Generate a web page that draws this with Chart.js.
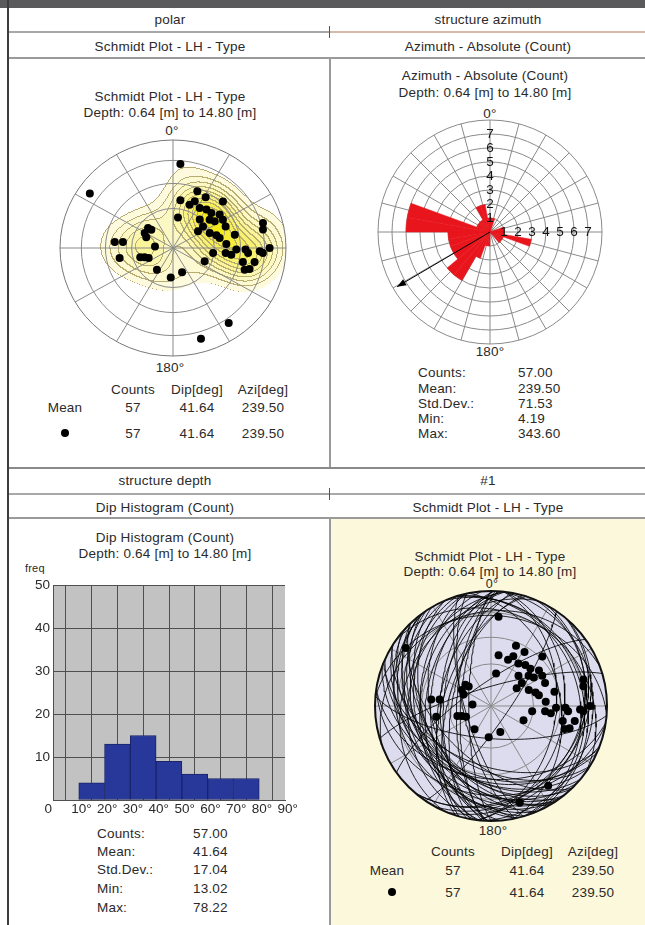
<!DOCTYPE html>
<html>
<head>
<meta charset="utf-8">
<script src="https://cdn.jsdelivr.net/npm/chart.js@4.4.1/dist/chart.umd.min.js"></script>
<style>
  body { margin:0; width:645px; height:925px; position:relative; overflow:hidden; background:#fff;
         font-family:"Liberation Sans", Arial, sans-serif; color:#2a2a2a; }
  .ln  { position:absolute; background:#9a9a9a; }
  .t   { position:absolute; font-size:13.5px; letter-spacing:0.2px; white-space:nowrap; transform:translate(-50%,-50%); }
  .tl  { position:absolute; font-size:13.5px; letter-spacing:0.2px; white-space:nowrap; transform:translate(0,-50%); }
  .dot { position:absolute; width:8px; height:8px; border-radius:50%; background:#000; transform:translate(-50%,-50%); }
  canvas { position:absolute; }
</style>
</head>
<body>

<!-- ── frame ───────────────────────────────────────────────────────────── -->
<div class="ln" style="left:0;top:0;width:645px;height:8px;background:#5a5a5c"></div>
<div class="ln" style="left:7px;top:0;width:2px;height:925px;background:#3c3c3c"></div>
<div class="ln" style="left:9px;top:31px;width:321px;height:2px;background:#a8a8a8"></div>
<div class="ln" style="left:330px;top:31px;width:315px;height:2px;background:#d9b9aa"></div>
<div class="ln" style="left:329px;top:26px;width:1px;height:12px;background:#555"></div>
<div class="ln" style="left:9px;top:57px;width:636px;height:2px"></div>
<div class="ln" style="left:329px;top:57px;width:2px;height:411px"></div>
<div class="ln" style="left:9px;top:467px;width:636px;height:2px;background:#8a8a8a"></div>
<div class="ln" style="left:9px;top:493px;width:636px;height:2px;background:#a8a8a8"></div>
<div class="ln" style="left:329px;top:488px;width:1px;height:12px;background:#555"></div>
<div class="ln" style="left:331px;top:519px;width:314px;height:406px;background:#fbf8dc"></div>
<div class="ln" style="left:9px;top:517px;width:636px;height:2px"></div>
<div class="ln" style="left:329px;top:517px;width:2px;height:408px"></div>

<!-- ── headers ─────────────────────────────────────────────────────────── -->
<div class="t" style="left:170px;top:19px">polar</div>
<div class="t" style="left:488px;top:19px">structure azimuth</div>
<div class="t" style="left:170px;top:46px">Schmidt Plot - LH - Type</div>
<div class="t" style="left:488px;top:46px">Azimuth - Absolute (Count)</div>
<div class="t" style="left:165px;top:480px">structure depth</div>
<div class="t" style="left:488px;top:480px">#1</div>
<div class="t" style="left:165px;top:507px">Dip Histogram (Count)</div>
<div class="t" style="left:488px;top:507px">Schmidt Plot - LH - Type</div>

<!-- ── panel 1: polar (Schmidt, contoured) ─────────────────────────────── -->
<div class="t" style="left:170px;top:96px">Schmidt Plot - LH - Type</div>
<div class="t" style="left:170px;top:112px">Depth: 0.64 [m] to 14.80 [m]</div>
<div class="t" style="left:172px;top:130px">0°</div>
<div class="t" style="left:170px;top:367px">180°</div>
<div class="t" style="left:133px;top:389px">Counts</div>
<div class="t" style="left:197px;top:389px">Dip[deg]</div>
<div class="t" style="left:263px;top:389px">Azi[deg]</div>
<div class="t" style="left:65px;top:407px">Mean</div>
<div class="t" style="left:133px;top:407px">57</div>
<div class="t" style="left:197px;top:407px">41.64</div>
<div class="t" style="left:263px;top:407px">239.50</div>
<div class="dot" style="left:65px;top:433px"></div>
<div class="t" style="left:133px;top:433px">57</div>
<div class="t" style="left:197px;top:433px">41.64</div>
<div class="t" style="left:263px;top:433px">239.50</div>
<canvas id="polarNet" width="238" height="228" style="left:54px;top:134px"></canvas>

<!-- ── panel 2: azimuth rose ───────────────────────────────────────────── -->
<div class="t" style="left:485px;top:75px">Azimuth - Absolute (Count)</div>
<div class="t" style="left:485px;top:92px">Depth: 0.64 [m] to 14.80 [m]</div>
<div class="t" style="left:490px;top:113px">0°</div>
<div class="t" style="left:490px;top:351px">180°</div>
<div class="tl" style="left:418px;top:372px">Counts:</div>
<div class="tl" style="left:418px;top:388px">Mean:</div>
<div class="tl" style="left:418px;top:403px">Std.Dev.:</div>
<div class="tl" style="left:418px;top:418px">Min:</div>
<div class="tl" style="left:418px;top:433px">Max:</div>
<div class="tl" style="left:518px;top:372px">57.00</div>
<div class="tl" style="left:518px;top:388px">239.50</div>
<div class="tl" style="left:518px;top:403px">71.53</div>
<div class="tl" style="left:518px;top:418px">4.19</div>
<div class="tl" style="left:518px;top:433px">343.60</div>
<canvas id="azRose" width="240" height="240" style="left:370px;top:112px"></canvas>

<!-- ── panel 3: dip histogram ──────────────────────────────────────────── -->
<div class="t" style="left:165px;top:537px">Dip Histogram (Count)</div>
<div class="t" style="left:165px;top:553px">Depth: 0.64 [m] to 14.80 [m]</div>
<div class="tl" style="left:25px;top:568px;font-size:11px">freq</div>
<div class="tl" style="left:97px;top:833px">Counts:</div>
<div class="tl" style="left:97px;top:851px">Mean:</div>
<div class="tl" style="left:97px;top:869px">Std.Dev.:</div>
<div class="tl" style="left:97px;top:888px">Min:</div>
<div class="tl" style="left:97px;top:907px">Max:</div>
<div class="tl" style="left:193px;top:833px">57.00</div>
<div class="tl" style="left:193px;top:851px">41.64</div>
<div class="tl" style="left:193px;top:869px">17.04</div>
<div class="tl" style="left:193px;top:888px">13.02</div>
<div class="tl" style="left:193px;top:907px">78.22</div>
<canvas id="dipHist" width="285" height="265" style="left:20px;top:560px"></canvas>

<!-- ── panel 4: Schmidt with great circles ─────────────────────────────── -->
<div class="t" style="left:490px;top:556px">Schmidt Plot - LH - Type</div>
<div class="t" style="left:490px;top:571px">Depth: 0.64 [m] to 14.80 [m]</div>
<div class="t" style="left:492px;top:584px;font-size:12.5px">0°</div>
<div class="t" style="left:493px;top:830px">180°</div>
<div class="t" style="left:453px;top:851px">Counts</div>
<div class="t" style="left:527px;top:851px">Dip[deg]</div>
<div class="t" style="left:593px;top:851px">Azi[deg]</div>
<div class="t" style="left:387px;top:870px">Mean</div>
<div class="t" style="left:453px;top:870px">57</div>
<div class="t" style="left:527px;top:870px">41.64</div>
<div class="t" style="left:593px;top:870px">239.50</div>
<div class="dot" style="left:392px;top:892px"></div>
<div class="t" style="left:453px;top:892px">57</div>
<div class="t" style="left:527px;top:892px">41.64</div>
<div class="t" style="left:593px;top:892px">239.50</div>
<canvas id="circleNet" width="244" height="242" style="left:369px;top:585px"></canvas>

<script>
// ── Structure data (dip, dip azimuth), 57 picks ─────────────────────────────
const dips = [
  66.9, 78.2, 47.3, 45.9, 36.8, 35.2, 36.2, 38.2, 51.8, 42.8,
  23.4, 29.0, 34.3, 36.6, 42.0, 22.0, 29.0, 33.0, 46.7, 71.8,
  70.3, 23.5, 20.9, 23.4, 20.9, 13.0, 43.0, 36.8, 39.8, 24.7,
  21.7, 20.1, 22.3, 19.5, 25.0, 29.3, 39.1, 38.7, 43.1, 54.0,
  56.2, 65.8, 74.4, 53.1, 62.5, 56.1, 59.8, 74.0, 76.6, 39.1,
  27.2, 34.8, 46.7, 68.6, 19.1, 38.8, 42.6,
];
const dipAzimuths = [
  184.8, 124.4, 202.3, 211.6, 188.4, 200.1, 212.5, 219.7, 225.7, 233.2,
  188.8, 222.0, 231.0, 236.2, 246.8, 235.1, 246.8, 253.0, 257.3, 253.8,
  257.9, 129.9, 131.5, 119.0, 112.8,  94.8,  96.2,  97.2,  78.9,  73.4,
   71.1,  35.2,   4.2, 340.4, 293.7, 277.4, 265.5, 275.6, 276.9, 271.3,
  274.0, 272.3, 270.0, 281.9, 280.2, 287.6, 286.0, 324.6, 343.6, 204.0,
  233.0, 257.3, 271.5, 273.3,  66.6, 226.3, 239.3,
];

// ── Rose diagram: counts per 10° azimuth bin (0-10, 10-20, ... 350-360) ─────
const roseCounts = [
  1, 1, 0, 0, 0, 0, 0, 1, 1, 1,
  3, 1, 1, 1, 0, 0, 0, 0, 1, 1,
  2, 4, 4, 3, 3, 3, 3, 6, 6, 1,
  1, 1, 1, 2, 2, 1,
];
const roseTicks = [1, 2, 3, 4, 5, 6, 7];
const roseSpokeStep = 15;
const meanAzimuth = 239.5;

// ── Dip histogram ───────────────────────────────────────────────────────────
const dipBinStarts = [10, 20, 30, 40, 50, 60, 70];
const dipBinCounts = [4, 13, 15, 9, 6, 5, 5];
const histXTicks   = [10, 20, 30, 40, 50, 60, 70, 80, 90];
const histYTicks   = [0, 10, 20, 30, 40, 50];

// ── Net grid (rings by dip, spokes every 30°) ───────────────────────────────
const netRingDips  = [30, 50, 70];
const netSpokeStep = 30;

const COLORS = {
  grid:   '#8a8a8a',
  red:    '#e8161c',
  bar:    '#27389a',
  barEdge:'#19246a',
  histBg: '#c2c2c2',
  histGrid:'#4f4f4f',
  disk:   '#dcdcee',
  olive:  [184, 172, 110],
};
const FONT = '13.5px "Liberation Sans", Arial, sans-serif';
const rad = d => d * Math.PI / 180;

// Lower-hemisphere equal-area position of the pole to a plane
function poleXY(dip, az) {
  const r = Math.SQRT2 * Math.sin(rad(dip) / 2);
  const trend = rad(az + 180);
  return { x: r * Math.sin(trend), y: r * Math.cos(trend) };
}
const poles = dips.map((d, i) => poleXY(d, dipAzimuths[i]));

// Great circle trace of a plane (lower hemisphere, equal-area)
function greatCircle(dip, az) {
  const d = rad(dip), a = rad(az);
  const s = [Math.sin(a), -Math.cos(a), 0];
  const v = [Math.cos(d) * Math.cos(a), Math.cos(d) * Math.sin(a), Math.sin(d)];
  const pts = [];
  for (let k = 0; k <= 72; k++) {
    const t = Math.PI * k / 72;
    const N = Math.cos(t) * s[0] + Math.sin(t) * v[0];
    const E = Math.cos(t) * s[1] + Math.sin(t) * v[1];
    const D = Math.cos(t) * s[2] + Math.sin(t) * v[2];
    const h = Math.hypot(N, E);
    const r = Math.sqrt(Math.max(0, 1 - D));
    pts.push(h < 1e-9 ? { x: 0, y: 0 } : { x: r * E / h, y: r * N / h });
  }
  return pts;
}

// ── Shared net grid plugin (drawn under the datasets) ───────────────────────
function netGridPlugin(fill) {
  return {
    id: 'netGrid',
    beforeDatasetsDraw(chart) {
      const { ctx, scales: { x, y } } = chart;
      const cx = x.getPixelForValue(0), cy = y.getPixelForValue(0);
      const rx = x.getPixelForValue(1) - cx, ry = cy - y.getPixelForValue(1);
      ctx.save();
      if (fill) {
        ctx.fillStyle = fill;
        ctx.beginPath(); ctx.ellipse(cx, cy, rx, ry, 0, 0, Math.PI * 2); ctx.fill();
      }
      ctx.strokeStyle = COLORS.grid;
      ctx.lineWidth = 1;
      netRingDips.forEach(dip => {
        const r = Math.SQRT2 * Math.sin(rad(dip) / 2);
        ctx.beginPath(); ctx.ellipse(cx, cy, rx * r, ry * r, 0, 0, Math.PI * 2); ctx.stroke();
      });
      for (let a = 0; a < 360; a += netSpokeStep) {
        ctx.beginPath();
        ctx.moveTo(cx, cy);
        ctx.lineTo(x.getPixelForValue(Math.sin(rad(a))), y.getPixelForValue(Math.cos(rad(a))));
        ctx.stroke();
      }
      ctx.restore();
    },
  };
}

function outerRingPlugin(color, width) {
  return {
    id: 'outerRing',
    afterDatasetsDraw(chart) {
      const { ctx, scales: { x, y } } = chart;
      const cx = x.getPixelForValue(0), cy = y.getPixelForValue(0);
      ctx.save();
      ctx.strokeStyle = color; ctx.lineWidth = width;
      ctx.beginPath();
      ctx.ellipse(cx, cy, x.getPixelForValue(1) - cx, cy - y.getPixelForValue(1), 0, 0, Math.PI * 2);
      ctx.stroke();
      ctx.restore();
    },
  };
}

// ── Density contours for the polar plot ─────────────────────────────────────
const densityLevels = [0.13, 0.22, 0.31, 0.4, 0.49, 0.58, 0.67, 0.76, 0.85, 0.93];
const densitySigma  = 0.16;

const densityPlugin = {
  id: 'density',
  beforeDatasetsDraw(chart) {
    const { ctx, chartArea: a, scales: { x, y } } = chart;
    const w = Math.round(a.right - a.left), h = Math.round(a.bottom - a.top);
    const vals = new Float32Array(w * h);
    const k2 = 2 * densitySigma * densitySigma;
    let max = 0;
    for (let j = 0; j < h; j++) {
      const vy = y.getValueForPixel(a.top + j + 0.5);
      for (let i = 0; i < w; i++) {
        const vx = x.getValueForPixel(a.left + i + 0.5);
        if (vx * vx + vy * vy > 1) { vals[j * w + i] = -1; continue; }
        let s = 0;
        for (const p of poles) {
          const dx = vx - p.x, dy = vy - p.y;
          s += Math.exp(-(dx * dx + dy * dy) / k2);
        }
        vals[j * w + i] = s;
        if (s > max) max = s;
      }
    }
    const lev = new Int8Array(w * h);
    for (let n = 0; n < w * h; n++) {
      if (vals[n] < 0) { lev[n] = -1; continue; }
      const f = vals[n] / max;
      let L = 0;
      densityLevels.forEach((t, k) => { if (f >= t) L = k + 1; });
      lev[n] = L;
    }
    const off = document.createElement('canvas');
    off.width = w; off.height = h;
    const octx = off.getContext('2d');
    const img = octx.createImageData(w, h);
    const lo = [253, 250, 222], hi = [243, 234, 30];
    for (let j = 0; j < h; j++) {
      for (let i = 0; i < w; i++) {
        const n = j * w + i, L = lev[n];
        if (L <= 0) continue;
        const tt = Math.pow((L - 1) / (densityLevels.length - 1), 1.3);
        let c = lo.map((v, q) => v + (hi[q] - v) * tt);
        const edge = (i > 0 && lev[n - 1] !== L && lev[n - 1] >= 0) ||
                     (j > 0 && lev[n - w] !== L && lev[n - w] >= 0);
        if (edge) c = COLORS.olive;
        img.data[n * 4] = c[0]; img.data[n * 4 + 1] = c[1]; img.data[n * 4 + 2] = c[2];
        img.data[n * 4 + 3] = 255;
      }
    }
    octx.putImageData(img, 0, 0);
    ctx.drawImage(off, a.left, a.top);
  },
};

const netScales = {
  x: { type: 'linear', min: -1, max: 1, display: false },
  y: { type: 'linear', min: -1, max: 1, display: false },
};
const quiet = { legend: { display: false }, tooltip: { enabled: false } };

// ── 1. Polar — contoured Schmidt net ───────────────────────────────────────
function renderPolarNet() {
  new Chart(document.getElementById('polarNet'), {
    type: 'scatter',
    data: { datasets: [{
      data: poles,
      pointRadius: 4,
      pointBackgroundColor: '#000',
      pointBorderWidth: 0,
      clip: false,
    }] },
    options: {
      responsive: false, animation: false, events: [],
      layout: { padding: 6 },
      plugins: quiet,
      scales: netScales,
    },
    plugins: [densityPlugin, netGridPlugin(null), outerRingPlugin('#777', 1)],
  });
}

// ── 2. Azimuth rose ─────────────────────────────────────────────────────────
const roseExtras = {
  id: 'roseExtras',
  beforeDatasetsDraw(chart) {
    // spokes of the rose net
    const r = chart.scales.r, ctx = chart.ctx;
    const R = r.getDistanceFromCenterForValue(r.max);
    ctx.save();
    ctx.strokeStyle = COLORS.grid; ctx.lineWidth = 1;
    for (let a = 0; a < 360; a += roseSpokeStep) {
      ctx.beginPath();
      ctx.moveTo(r.xCenter, r.yCenter);
      ctx.lineTo(r.xCenter + R * Math.sin(rad(a)), r.yCenter - R * Math.cos(rad(a)));
      ctx.stroke();
    }
    ctx.restore();
  },
  afterDraw(chart) {
    const r = chart.scales.r, ctx = chart.ctx;
    ctx.save();
    ctx.font = FONT;
    ctx.fillStyle = '#111';
    ctx.textAlign = 'center';
    ctx.textBaseline = 'middle';
    roseTicks.forEach(v => {
      const d = r.getDistanceFromCenterForValue(v);
      ctx.fillText(String(v), r.xCenter, r.yCenter - d);
      ctx.fillText(String(v), r.xCenter + d, r.yCenter);
    });
    // mean direction arrow
    const len = r.getDistanceFromCenterForValue(7.7);
    const th = rad(meanAzimuth);
    const tx = r.xCenter + len * Math.sin(th), ty = r.yCenter - len * Math.cos(th);
    ctx.strokeStyle = '#000'; ctx.fillStyle = '#000'; ctx.lineWidth = 1;
    ctx.beginPath(); ctx.moveTo(r.xCenter, r.yCenter); ctx.lineTo(tx, ty); ctx.stroke();
    const ux = Math.sin(th), uy = -Math.cos(th);
    ctx.beginPath();
    ctx.moveTo(tx, ty);
    ctx.lineTo(tx - 9 * ux - 3.5 * uy, ty - 9 * uy + 3.5 * ux);
    ctx.lineTo(tx - 9 * ux + 3.5 * uy, ty - 9 * uy - 3.5 * ux);
    ctx.closePath(); ctx.fill();
    ctx.restore();
  },
};

function renderAzimuthRose() {
  new Chart(document.getElementById('azRose'), {
    type: 'polarArea',
    data: {
      labels: roseCounts.map((_, i) => `${i * 10}-${i * 10 + 10}`),
      datasets: [{
        data: roseCounts,
        backgroundColor: COLORS.red,
        borderColor: COLORS.red,
        borderWidth: 0.5,
      }],
    },
    options: {
      responsive: false, animation: false, events: [],
      layout: { padding: 8 },
      plugins: quiet,
      scales: {
        r: {
          min: 0, max: 8, startAngle: 0,
          ticks: { display: false, stepSize: 1 },
          grid: { circular: true, color: COLORS.grid, lineWidth: 1 },
          angleLines: { display: false },
          pointLabels: { display: false },
        },
      },
    },
    plugins: [roseExtras],
  });
}

// ── 3. Dip histogram ────────────────────────────────────────────────────────
const histExtras = {
  id: 'histExtras',
  beforeDraw(chart) {
    const { ctx, chartArea: a } = chart;
    ctx.save();
    ctx.fillStyle = COLORS.histBg;
    ctx.fillRect(a.left, a.top, a.right - a.left, a.bottom - a.top);
    ctx.restore();
  },
  afterDraw(chart) {
    const { ctx, chartArea: a, scales: { x, y } } = chart;
    ctx.save();
    ctx.font = FONT;
    ctx.fillStyle = '#2a2a2a';
    ctx.textBaseline = 'middle';
    histYTicks.forEach(v => {
      ctx.textAlign = 'right';
      if (v === 0) ctx.fillText('0', a.left - 1, a.bottom + 9);
      else ctx.fillText(String(v), a.left - 3, y.getPixelForValue(v));
    });
    ctx.textAlign = 'left';
    histXTicks.forEach(v => {
      const w = ctx.measureText(String(v)).width;
      ctx.fillText(v + '°', x.getPixelForValue(v) - w / 2, a.bottom + 9);
    });
    ctx.restore();
  },
};

function renderDipHistogram() {
  const gridOpts = { color: COLORS.histGrid, lineWidth: 1, drawTicks: false };
  new Chart(document.getElementById('dipHist'), {
    type: 'bar',
    data: { datasets: [{
      data: dipBinStarts.map((b, i) => ({ x: b + 5, y: dipBinCounts[i] })),
      backgroundColor: COLORS.bar,
      borderColor: COLORS.barEdge,
      borderWidth: 1,
      borderSkipped: false,
      barPercentage: 1,
      categoryPercentage: 1,
    }] },
    options: {
      responsive: false, animation: false, events: [],
      layout: { padding: { left: 33, right: 20, top: 25, bottom: 25 } },
      plugins: quiet,
      scales: {
        x: { type: 'linear', min: 0, max: 90, offset: false,
             ticks: { display: false, stepSize: 10 }, grid: gridOpts,
             border: { color: COLORS.histGrid } },
        y: { type: 'linear', min: 0, max: 50,
             ticks: { display: false, stepSize: 10 }, grid: gridOpts,
             border: { color: COLORS.histGrid } },
      },
    },
    plugins: [histExtras],
  });
}

// ── 4. Schmidt net with great circles ───────────────────────────────────────
function renderCircleNet() {
  const traces = dips.map((d, i) => ({
    data: greatCircle(d, dipAzimuths[i]),
    showLine: true,
    pointRadius: 0,
    borderColor: 'rgba(0,0,0,0.85)',
    borderWidth: 1,
    fill: false,
  }));
  new Chart(document.getElementById('circleNet'), {
    type: 'scatter',
    data: { datasets: [{
      data: poles,
      pointRadius: 4,
      pointBackgroundColor: '#000',
      pointBorderWidth: 0,
      clip: false,
    }, ...traces] },
    options: {
      responsive: false, animation: false, events: [],
      layout: { padding: 6 },
      plugins: quiet,
      scales: netScales,
    },
    plugins: [netGridPlugin(COLORS.disk), outerRingPlugin('#111', 2)],
  });
}

renderPolarNet();
renderAzimuthRose();
renderDipHistogram();
renderCircleNet();
</script>
</body>
</html>
